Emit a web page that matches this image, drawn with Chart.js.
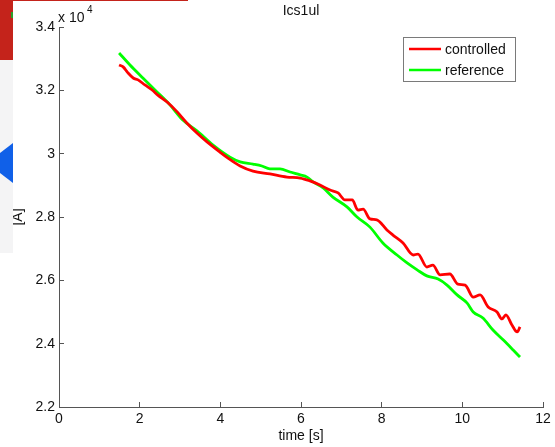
<!DOCTYPE html>
<html>
<head>
<meta charset="utf-8">
<script src="https://cdn.jsdelivr.net/npm/chart.js@4/dist/chart.umd.min.js"></script>
<style>
  body { margin: 0; background: #fff; }
  #wrap { position: relative; width: 555px; height: 447px; }
  .bit { position: absolute; }
</style>
</head>
<body>
<div id="wrap">
  <canvas id="ics" width="555" height="447"></canvas>
  <!-- bits of other windows visible at the left edge of the screenshot -->
  <div class="bit" style="left:0;top:0;width:13px;height:60px;background:#c4231b"></div>
  <div class="bit" style="left:13px;top:0;width:175px;height:1px;background:#c4231b"></div>
  <div class="bit" style="left:11px;top:12px;width:2px;height:6px;background:#2aa02a"></div>
  <div class="bit" style="left:0;top:60px;width:13px;height:193px;background:#f4f4f5"></div>
  <div class="bit" style="left:0;top:143px;width:13px;height:40px;background:#1060e8;clip-path:polygon(0 10px,13px 0,13px 40px,0 30px)"></div>
</div>
<script>
// time [s] and current [A]
var ctrlTime = [1.49, 1.59, 1.71, 1.84, 1.96, 2.13, 2.31, 2.45, 2.68, 2.93, 3.17, 3.42, 3.67, 3.99, 4.19,
    4.49, 4.81, 5.23, 5.65, 5.98, 6.22, 6.47, 6.72, 6.92, 7.09, 7.27, 7.41, 7.54, 7.71, 7.88, 8.13,
    8.28, 8.53, 8.78, 8.90, 9.12, 9.27, 9.45, 9.69, 9.89, 10.07, 10.27, 10.44, 10.64, 10.86, 10.98,
    11.08, 11.23, 11.36, 11.43];
var ctrlCurrent = [32800, 32740, 32550, 32390, 32330, 32170, 32010, 31850, 31630, 31320, 30970, 30650,
    30370, 30050, 29860, 29610, 29450, 29360, 29260, 29230, 29140, 29010, 28850, 28760, 28540, 28540,
    28220, 28250, 27940, 27910, 27590, 27430, 27180, 26800, 26830, 26420, 26480, 26170, 26200, 25880,
    25850, 25470, 25540, 25160, 25000, 24780, 24910, 24590, 24370, 24530];

var refTime = [1.49, 1.76, 2.08, 2.43, 2.75, 3.07, 3.42, 3.82, 4.24, 4.49, 4.81, 5.03, 5.23, 5.48, 5.73,
    5.98, 6.15, 6.30, 6.55, 6.79, 7.14, 7.39, 7.71, 8.03, 8.38, 8.63, 8.88, 9.12, 9.40, 9.62, 9.87,
    10.12, 10.27, 10.51, 10.76, 11.01, 11.26, 11.43];
var refCurrent = [33180, 32800, 32390, 31950, 31540, 31060, 30720, 30270, 29890, 29740, 29670, 29610,
    29520, 29520, 29420, 29330, 29260, 29110, 28920, 28630, 28320, 28000, 27680, 27180, 26800, 26550,
    26330, 26140, 26040, 25850, 25540, 25280, 25000, 24810, 24430, 24120, 23800, 23580];

var xTicks = [0, 2, 4, 6, 8, 10, 12];
var yTicks = [22000, 24000, 26000, 28000, 30000, 32000, 34000];

var seriesNames = ['controlled', 'reference'];
var seriesColors = ['#ff0000', '#00ff00'];

function toPoints(xs, ys) {
    return xs.map(function(x, i) { return { x: x, y: ys[i] }; });
}

var font = 'Liberation Sans, Arial, Helvetica, sans-serif';
var axisColor = '#555555';

// title, exponent label and boxed legend, drawn in MATLAB style
var extras = {
    id: 'extras',
    afterDraw: function(chart) {
        var c = chart.ctx;
        var area = chart.chartArea;
        c.save();
        c.fillStyle = '#111';
        c.textBaseline = 'alphabetic';

        c.font = '14px ' + font;
        c.textAlign = 'center';
        c.fillText('Ics1ul', (area.left + area.right) / 2, 15);

        c.textAlign = 'left';
        c.fillText('x 10', area.left - 1, 22);
        c.font = '10px ' + font;
        c.fillText('4', area.left + 28, 13);

        // legend box
        var bx = 403.5, by = 37.5, bw = 112, bh = 44;
        c.fillStyle = '#fff';
        c.fillRect(bx, by, bw, bh);
        c.strokeStyle = '#7a7a7a';
        c.lineWidth = 1;
        c.strokeRect(bx, by, bw, bh);
        c.font = '14px ' + font;
        c.textBaseline = 'middle';
        for (var i = 0; i < seriesNames.length; i++) {
            var ly = 49 + i * 21;
            c.strokeStyle = seriesColors[i];
            c.lineWidth = 2.5;
            c.beginPath();
            c.moveTo(409, ly);
            c.lineTo(441, ly);
            c.stroke();
            c.fillStyle = '#111';
            c.fillText(seriesNames[i], 445, ly + 1);
        }
        c.restore();
    }
};

var ctx = document.getElementById('ics').getContext('2d');
new Chart(ctx, {
    type: 'line',
    data: {
        datasets: [
            {
                label: seriesNames[0],
                data: toPoints(ctrlTime, ctrlCurrent),
                borderColor: seriesColors[0],
                borderWidth: 2.8,
                pointRadius: 0,
                cubicInterpolationMode: 'monotone',
                fill: false
            },
            {
                label: seriesNames[1],
                data: toPoints(refTime, refCurrent),
                borderColor: seriesColors[1],
                borderWidth: 2.8,
                pointRadius: 0,
                cubicInterpolationMode: 'monotone',
                fill: false
            }
        ]
    },
    options: {
        responsive: false,
        animation: false,
        devicePixelRatio: 1,
        layout: { padding: { top: 27, right: 12, left: 0, bottom: 0 } },
        scales: {
            x: {
                type: 'linear',
                min: 0,
                max: 12,
                afterFit: function(scale) {
                    scale.height = 40;
                    scale.paddingLeft = 0;
                    scale.paddingRight = 0;
                },
                afterBuildTicks: function(scale) {
                    scale.ticks = xTicks.map(function(v) { return { value: v }; });
                },
                grid: { drawOnChartArea: false, tickLength: -5, color: axisColor },
                border: { display: true, color: axisColor, width: 1 },
                ticks: { color: '#111', padding: 9, maxRotation: 0, font: { family: font, size: 14 } },
                title: {
                    display: true,
                    text: 'time [s]',
                    color: '#111',
                    font: { family: font, size: 14 },
                    padding: { top: 0, bottom: 2 }
                }
            },
            y: {
                type: 'linear',
                min: 22000,
                max: 34000,
                afterFit: function(scale) {
                    scale.width = 59;
                    scale.paddingTop = 0;
                    scale.paddingBottom = 0;
                },
                afterBuildTicks: function(scale) {
                    scale.ticks = yTicks.map(function(v) { return { value: v }; });
                },
                grid: { drawOnChartArea: false, tickLength: -5, color: axisColor },
                border: { display: true, color: axisColor, width: 1 },
                ticks: {
                    color: '#111',
                    padding: 9,
                    font: { family: font, size: 14 },
                    callback: function(v) { return String(Math.round(v / 1000) / 10); }
                },
                title: {
                    display: true,
                    text: '[A]',
                    color: '#111',
                    font: { family: font, size: 14 },
                    padding: { top: 10, bottom: 0 }
                }
            }
        },
        plugins: {
            legend: { display: false },
            title: { display: false },
            tooltip: { enabled: false }
        }
    },
    plugins: [extras]
});
</script>
</body>
</html>
